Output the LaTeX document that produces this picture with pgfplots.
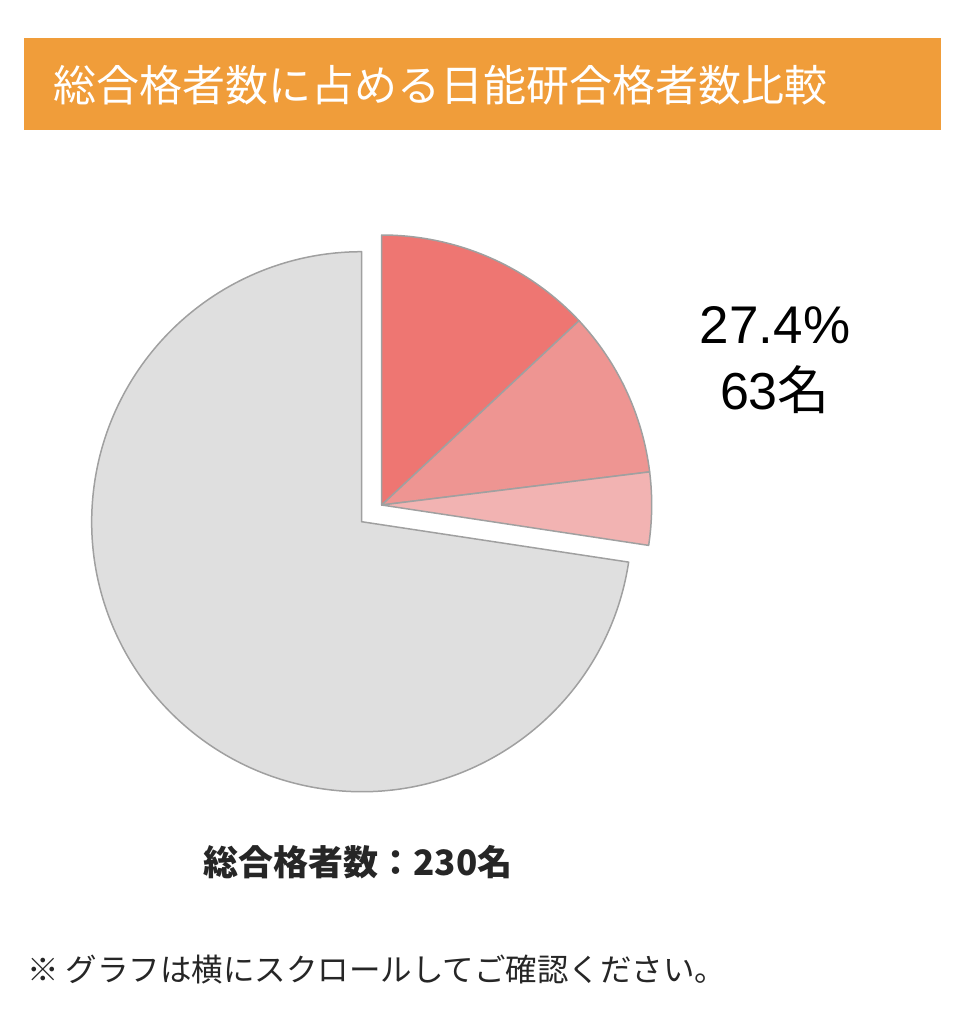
\documentclass[border=0pt]{standalone}
\usepackage{fontspec}
\setmainfont{Noto Sans CJK JP}
\newfontfamily\latin{Liberation Sans}
\usepackage{pgfplots}
\usepackage{pgfplotstable}
\pgfplotsset{compat=1.18}

\definecolor{titlebar}{HTML}{F09D3A}
\definecolor{slice0}{HTML}{EE7672}
\definecolor{slice1}{HTML}{EE9592}
\definecolor{slice2}{HTML}{F2B3B2}
\definecolor{slice3}{HTML}{DFDFDF}
\definecolor{edge}{HTML}{A0A0A0}

% slice centre (px), passers before this slice, passers in slice, colour index
\pgfplotstableread{
x     y     cum n   k
381.7 505.0 0   30  0
381.7 505.0 30  23  1
381.7 505.0 53  10  2
361.7 521.7 63  167 3
}\piedata

\begin{document}
\begin{tikzpicture}
\begin{axis}[
  hide axis,
  scale only axis,
  x=0.5pt, y=0.5pt,
  xmin=0, xmax=969, ymin=0, ymax=1024,
  y dir=reverse,
  clip=false,
]
  \path (axis cs:0,0) rectangle (axis cs:969,1024);
  \fill[titlebar] (axis cs:24,38) rectangle (axis cs:941,130);
  \node[anchor=west, text=white, font=\fontsize{21.5}{24}\selectfont]
    at (axis cs:46,85) {総合格者数に占める日能研合格者数比較};

  \addplot[
    scatter, only marks,
    mark=*, mark size=0.01pt,
    visualization depends on={\thisrow{cum} \as \cum},
    visualization depends on={\thisrow{n} \as \nn},
    visualization depends on={\thisrow{k} \as \kk},
    scatter/@pre marker code/.code={%
      \pgfmathsetmacro\aa{90-\cum/230*360}%
      \pgfmathsetmacro\dd{-\nn/230*360}%
      \pgfmathtruncatemacro\ki{\kk}%
      \draw[fill=slice\ki, draw=edge, line width=0.75pt, line join=round,
            draw opacity=1, fill opacity=1]
        (0,0) -- (\aa:135pt) arc[start angle=\aa, delta angle=\dd, radius=135pt] -- cycle;
      \begin{scope}[draw=edge, fill=edge]
    },
    scatter/@post marker code/.code={\end{scope}},
  ] table[x=x, y=y] {\piedata};

  \node[font=\latin\fontsize{26.5}{30}\selectfont] at (axis cs:775,325) {27.4\%};
  \node[font=\fontsize{26}{30}\selectfont] at (axis cs:775,390) {{\latin 63}名};
  \node[font=\bfseries\fontsize{17.5}{20}\selectfont, text=black!85] at (axis cs:358,862) {総合格者数：230名};
  \node[anchor=west, font=\fontsize{15.75}{18}\selectfont, text=black!85] at (axis cs:20,970)
    {※ グラフは横にスクロールしてご確認ください。};
\end{axis}
\end{tikzpicture}
\end{document}
